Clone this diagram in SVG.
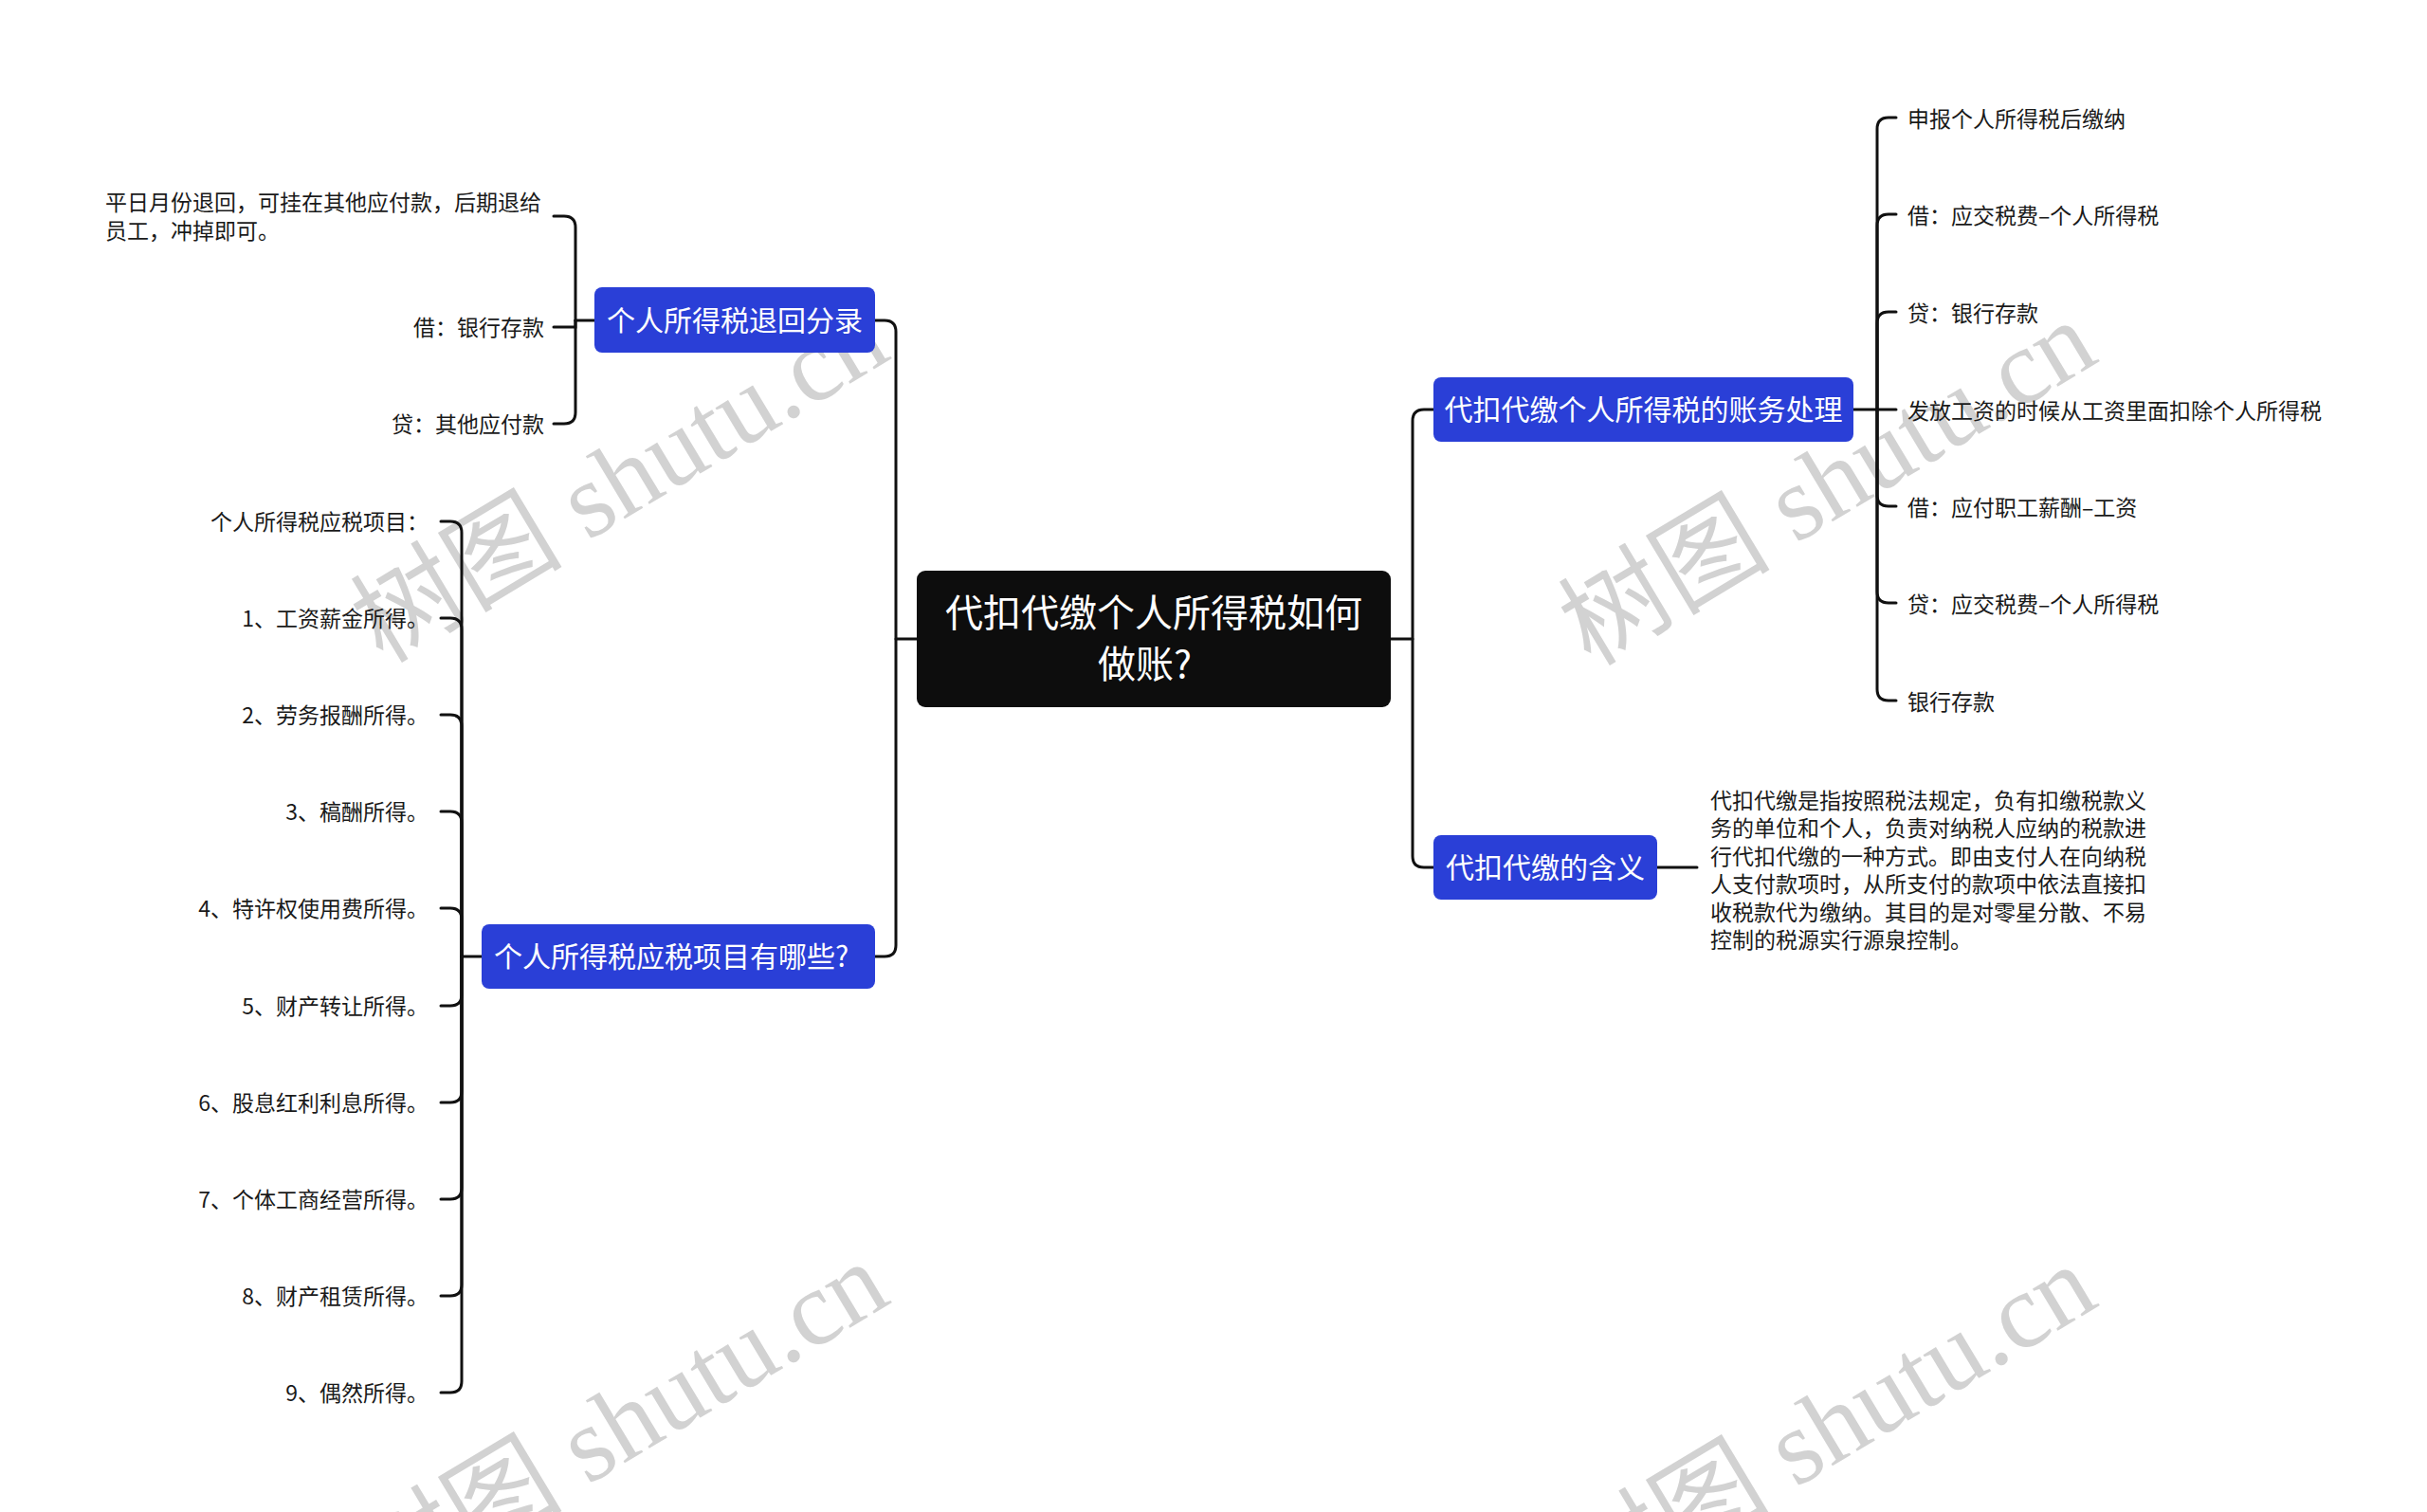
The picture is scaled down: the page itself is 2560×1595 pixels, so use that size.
<svg xmlns="http://www.w3.org/2000/svg" width="2560" height="1595" viewBox="0 0 2560 1595">
<style>
.wm{font-family:"Liberation Serif","Noto Sans CJK SC",serif;font-size:112px;fill:#d2d2d2;text-anchor:middle}
.ln{fill:none;stroke:#111;stroke-width:3;stroke-linecap:round}
.root{fill:#0d0d0d}
.nd{fill:#2a3fd7}
.tr{font-family:"Noto Sans CJK SC","Noto Sans",sans-serif;font-size:40px;fill:#fff}
.tn{font-family:"Noto Sans CJK SC","Noto Sans",sans-serif;font-size:30px;fill:#fff}
.mid{text-anchor:middle}
.tl{font-family:"Noto Sans CJK SC","Noto Sans",sans-serif;font-size:23px;fill:#1a1a1a}
.e{text-anchor:end}
</style>
<rect width="2560" height="1595" fill="#fff"/>
<g id="watermark">
<text class="wm" x="673" y="539" transform="rotate(-31 673 539)">树图 shutu.cn</text>
<text class="wm" x="1947" y="542" transform="rotate(-31 1947 542)">树图 shutu.cn</text>
<text class="wm" x="673" y="1535" transform="rotate(-31 673 1535)">树图 shutu.cn</text>
<text class="wm" x="1947" y="1538" transform="rotate(-31 1947 1538)">树图 shutu.cn</text>
</g>
<g id="connectors">
<path class="ln" d="M945,674 H967"/>
<path class="ln" d="M923,338 H933 Q945,338 945,350 V997 Q945,1009 933,1009 H923"/>
<path class="ln" d="M1467,674 H1490"/>
<path class="ln" d="M1512,432 H1502 Q1490,432 1490,444 V903 Q1490,915 1502,915 H1512"/>
<path class="ln" d="M627,338 H607"/>
<path class="ln" d="M607,338 V240 Q607,228 595,228 H584"/>
<path class="ln" d="M607,338 V345 H584"/>
<path class="ln" d="M607,338 V435 Q607,447 595,447 H584"/>
<path class="ln" d="M508,1009 H487"/>
<path class="ln" d="M487,1009 V562 Q487,550 475,550 H465"/>
<path class="ln" d="M487,1009 V664 Q487,652 475,652 H465"/>
<path class="ln" d="M487,1009 V766 Q487,754 475,754 H465"/>
<path class="ln" d="M487,1009 V868 Q487,856 475,856 H465"/>
<path class="ln" d="M487,1009 V970 Q487,958 475,958 H465"/>
<path class="ln" d="M487,1009 V1049 Q487,1061 475,1061 H465"/>
<path class="ln" d="M487,1009 V1151 Q487,1163 475,1163 H465"/>
<path class="ln" d="M487,1009 V1253 Q487,1265 475,1265 H465"/>
<path class="ln" d="M487,1009 V1355 Q487,1367 475,1367 H465"/>
<path class="ln" d="M487,1009 V1457 Q487,1469 475,1469 H465"/>
<path class="ln" d="M1955,432 H2000"/>
<path class="ln" d="M1980,432 V136 Q1980,124 1992,124 H2000"/>
<path class="ln" d="M1980,432 V238 Q1980,226 1992,226 H2000"/>
<path class="ln" d="M1980,432 V341 Q1980,329 1992,329 H2000"/>
<path class="ln" d="M1980,432 V522 Q1980,534 1992,534 H2000"/>
<path class="ln" d="M1980,432 V624 Q1980,636 1992,636 H2000"/>
<path class="ln" d="M1980,432 V727 Q1980,739 1992,739 H2000"/>
<path class="ln" d="M1748,915 H1790"/>
</g>
<g id="root">
<rect class="root" x="967" y="602" width="500" height="144" rx="9"/>
<text class="tr mid" x="1217" y="661">代扣代缴个人所得税如何</text>
<text class="tr" x="1158" y="715">做账?</text>
</g>
<g id="node-refund">
<rect class="nd" x="627" y="303" width="296" height="69" rx="8"/>
<text class="tn mid" x="775" y="349">个人所得税退回分录</text>
</g>
<g id="node-items">
<rect class="nd" x="508" y="975" width="415" height="68" rx="8"/>
<text class="tn" x="521" y="1020">个人所得税应税项目有哪些?</text>
</g>
<g id="node-accounting">
<rect class="nd" x="1512" y="398" width="443" height="68" rx="8"/>
<text class="tn mid" x="1733.5" y="443">代扣代缴个人所得税的账务处理</text>
</g>
<g id="node-meaning">
<rect class="nd" x="1512" y="881" width="236" height="68" rx="8"/>
<text class="tn mid" x="1630" y="926">代扣代缴的含义</text>
</g>
<g id="leaves-refund">
<text class="tl" x="111" y="222">平日月份退回，可挂在其他应付款，后期退给</text>
<text class="tl" x="111" y="252">员工，冲掉即可。</text>
<text class="tl e" x="574" y="354">借：银行存款</text>
<text class="tl e" x="574" y="456">贷：其他应付款</text>
</g>
<g id="leaves-items">
<text class="tl e" x="452" y="559">个人所得税应税项目：</text>
<text class="tl e" x="452" y="661">1、工资薪金所得。</text>
<text class="tl e" x="452" y="763">2、劳务报酬所得。</text>
<text class="tl e" x="452" y="865">3、稿酬所得。</text>
<text class="tl e" x="452" y="967">4、特许权使用费所得。</text>
<text class="tl e" x="452" y="1070">5、财产转让所得。</text>
<text class="tl e" x="452" y="1172">6、股息红利利息所得。</text>
<text class="tl e" x="452" y="1274">7、个体工商经营所得。</text>
<text class="tl e" x="452" y="1376">8、财产租赁所得。</text>
<text class="tl e" x="452" y="1478">9、偶然所得。</text>
</g>
<g id="leaves-accounting">
<text class="tl" x="2012" y="134">申报个人所得税后缴纳</text>
<text class="tl" x="2012" y="236">借：应交税费–个人所得税</text>
<text class="tl" x="2012" y="339">贷：银行存款</text>
<text class="tl" x="2012" y="442">发放工资的时候从工资里面扣除个人所得税</text>
<text class="tl" x="2012" y="544">借：应付职工薪酬–工资</text>
<text class="tl" x="2012" y="646">贷：应交税费–个人所得税</text>
<text class="tl" x="2012" y="749">银行存款</text>
</g>
<g id="leaf-meaning">
<text class="tl" x="1804" y="853">代扣代缴是指按照税法规定，负有扣缴税款义</text>
<text class="tl" x="1804" y="882">务的单位和个人，负责对纳税人应纳的税款进</text>
<text class="tl" x="1804" y="912">行代扣代缴的一种方式。即由支付人在向纳税</text>
<text class="tl" x="1804" y="941">人支付款项时，从所支付的款项中依法直接扣</text>
<text class="tl" x="1804" y="971">收税款代为缴纳。其目的是对零星分散、不易</text>
<text class="tl" x="1804" y="1000">控制的税源实行源泉控制。</text>
</g>
</svg>
